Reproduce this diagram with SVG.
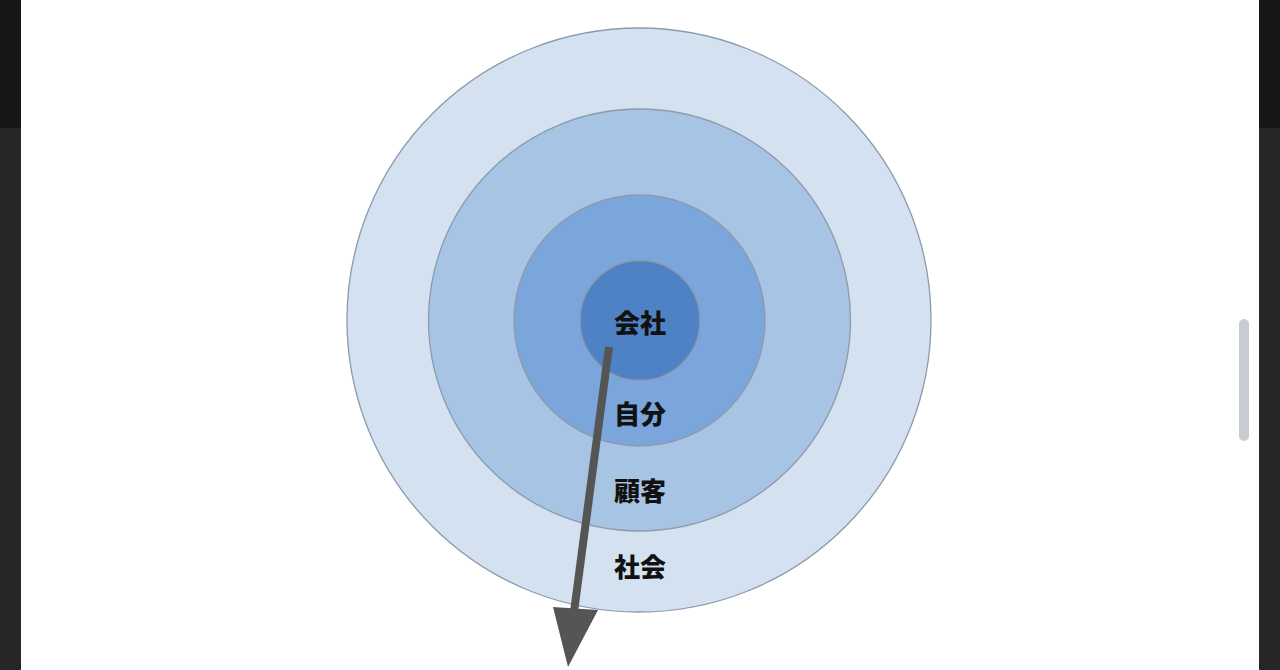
<svg xmlns="http://www.w3.org/2000/svg" width="1280" height="670" viewBox="0 0 1280 670">
<style>
.ring{stroke:#8d9aab;stroke-width:1.3}
.lbl{font-family:"Noto Sans CJK JP","Noto Sans CJK SC",sans-serif;font-weight:900;font-size:26px;fill:#111;text-anchor:middle;dominant-baseline:central}
</style>
<rect x="0" y="0" width="1280" height="670" fill="#262626"/>
<rect x="0" y="0" width="1280" height="128" fill="#161616"/>
<rect x="21" y="0" width="1238" height="670" fill="#ffffff"/>
<rect x="1239" y="319" width="10" height="122" rx="5" fill="#c9cdd2"/>
<g id="society"><circle class="ring" cx="639" cy="320" r="292" fill="#d3e1f1"/></g>
<g id="customer"><circle class="ring" cx="639.5" cy="320" r="211" fill="#a8c4e4"/></g>
<g id="self"><circle class="ring" cx="639.5" cy="320.5" r="125.5" fill="#7ba6db"/></g>
<g id="company"><circle class="ring" cx="640" cy="320.5" r="60" fill="#4f82c5"/></g>
<g id="connectors">
<line x1="609" y1="347" x2="574" y2="612" stroke="#555" stroke-width="8"/>
<polygon points="553,607 598,610 568,667" fill="#555"/>
</g>
<g id="labels">
<text class="lbl" x="640" y="321">会社</text>
<text class="lbl" x="640" y="412">自分</text>
<text class="lbl" x="640" y="489">顧客</text>
<text class="lbl" x="640" y="565">社会</text>
</g>
</svg>
